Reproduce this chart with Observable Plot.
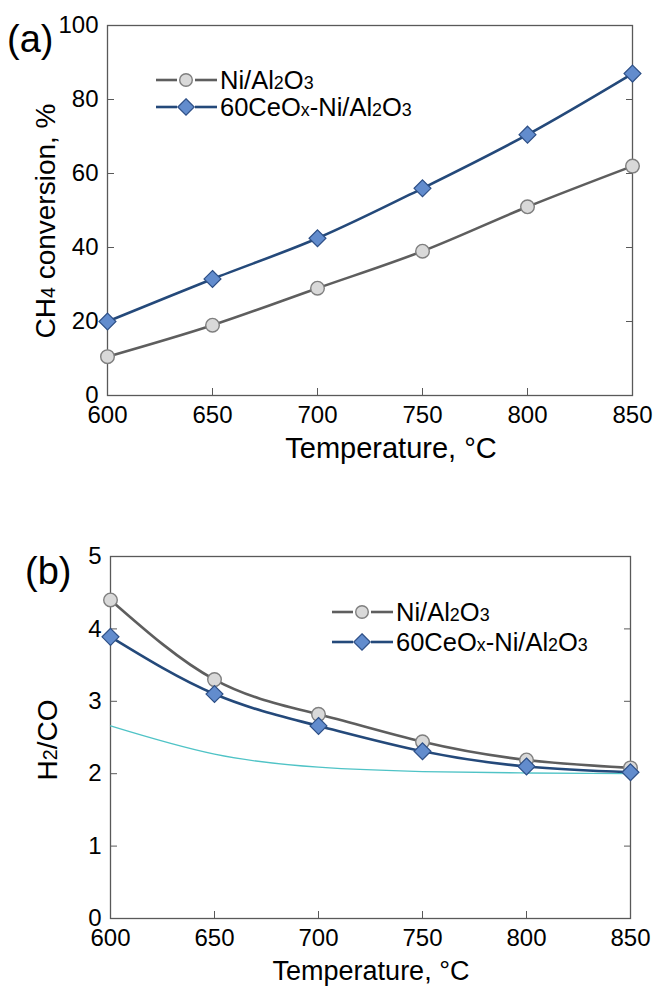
<!DOCTYPE html>
<html><head><meta charset="utf-8">
<script src="https://cdn.jsdelivr.net/npm/d3@7"></script>
<script src="https://cdn.jsdelivr.net/npm/@observablehq/plot@0.6"></script>
<style>
body{margin:0;background:#fff;}
#wrap{position:relative;width:655px;height:988px;overflow:hidden;font-family:"Liberation Sans",Arial,sans-serif;}
#wrap svg{position:absolute;left:0;overflow:visible;}
</style></head><body><div id="wrap"></div>
<script>
// ---- data ----
const temperatures = [600, 650, 700, 750, 800, 850];
const niConversion = [10.5, 19, 29, 39, 51, 62];
const ceConversion = [20, 31.5, 42.5, 56, 70.5, 87];
const niRatio = [4.4, 3.3, 2.82, 2.44, 2.19, 2.08];
const ceRatio = [3.89, 3.1, 2.66, 2.31, 2.1, 2.02];
const equilibriumRatio = [2.66, 2.27, 2.09, 2.03, 2.01, 2.0];
const xTicks = [600, 650, 700, 750, 800, 850];
const yTicksA = [0, 20, 40, 60, 80, 100];
const yTicksB = [0, 1, 2, 3, 4, 5];

// ---- styles ----
const FONT = '"Liberation Sans", Arial, sans-serif';
const AXIS = "#595959";
const NI = {line: "#5e5e5e", fill: "#d9d9d9", stroke: "#7f7f7f"};
const CE = {line: "#24497a", fill: "#628ccd", stroke: "#2d4f86"};
const EQ = "#4fc3c6";

const rows = (ys) => temperatures.map((t, i) => ({t, v: ys[i]}));

function panel({height, mt, mb, ml, mr, yDomain, yTicks, ni, ce, eq, curve}) {
  const marks = [
    Plot.frame({stroke: AXIS, strokeWidth: 1.3}),
    Plot.axisX({ticks: xTicks, tickFormat: d3.format("d"), tickSize: -7, tickPadding: 17, stroke: AXIS, fill: "#000", fontSize: 24, label: null}),
    Plot.axisY({ticks: yTicks, tickFormat: d3.format("d"), tickSize: -7, tickPadding: 16, stroke: AXIS, fill: "#000", fontSize: 24, label: null}),
    Plot.axisY({anchor: "right", ticks: yTicks, tickSize: -7, tickFormat: () => "", stroke: AXIS, label: null})
  ];
  if (eq) marks.push(Plot.line(rows(eq), {x: "t", y: "v", stroke: EQ, strokeWidth: 1.3, curve: "natural"}));
  marks.push(
    Plot.line(rows(ni), {x: "t", y: "v", stroke: NI.line, strokeWidth: 2.6, curve}),
    Plot.line(rows(ce), {x: "t", y: "v", stroke: CE.line, strokeWidth: 2.6, curve}),
    Plot.dot(rows(ni), {x: "t", y: "v", r: 6.8, fill: NI.fill, stroke: NI.stroke, strokeWidth: 1.4}),
    Plot.dot(rows(ce), {x: "t", y: "v", symbol: "diamond2", r: 7.6, fill: CE.fill, stroke: CE.stroke, strokeWidth: 1.2})
  );
  return Plot.plot({
    width: 655, height,
    marginTop: mt, marginBottom: mb, marginLeft: ml, marginRight: mr,
    style: {fontFamily: FONT, fontSize: "24px", color: "#000", background: "transparent", overflow: "visible"},
    x: {domain: [600, 850]},
    y: {domain: yDomain},
    marks
  });
}

function richText(g, parts, size) {
  const t = g.append("text").attr("font-family", FONT).attr("font-size", size).attr("fill", "#000");
  parts.forEach(p => {
    if (typeof p === "string") t.append("tspan").text(p);
    else t.append("tspan").attr("font-size", size * 0.7).text(p.sub);
  });
  return t;
}

function legend(svg, x0, y0, dyRow) {
  const g = d3.select(svg).append("g").attr("text-anchor", "start");
  const items = [
    {parts: ["Ni/Al", {sub: "2"}, "O", {sub: "3"}], s: NI, sym: "circle"},
    {parts: ["60CeO", {sub: "x"}, "-Ni/Al", {sub: "2"}, "O", {sub: "3"}], s: CE, sym: "diamond"}
  ];
  items.forEach((it, i) => {
    const y = y0 + i * dyRow;
    const cx = x0 + 30;
    g.append("line").attr("x1", x0).attr("x2", cx - 9).attr("y1", y).attr("y2", y).attr("stroke", it.s.line).attr("stroke-width", 2.6);
    g.append("line").attr("x1", cx + 9).attr("x2", x0 + 61).attr("y1", y).attr("y2", y).attr("stroke", it.s.line).attr("stroke-width", 2.6);
    if (it.sym === "circle") {
      g.append("circle").attr("cx", cx).attr("cy", y).attr("r", 6.3).attr("fill", it.s.fill).attr("stroke", it.s.stroke).attr("stroke-width", 1.4);
    } else {
      g.append("path").attr("d", d3.symbol(d3.symbolDiamond2, Math.PI * 7.4 * 7.4)()).attr("transform", `translate(${cx},${y})`)
        .attr("fill", it.s.fill).attr("stroke", it.s.stroke).attr("stroke-width", 1.2);
    }
    richText(g, it.parts, 25.5).attr("text-anchor", "start").attr("x", x0 + 64).attr("y", y + 9);
  });
}

const wrap = document.getElementById("wrap");

// ---- panel (a) ----
const svgA = panel({height: 480, mt: 25, mb: 85, ml: 107, mr: 23, yDomain: [0, 100], yTicks: yTicksA,
  ni: niConversion, ce: ceConversion, curve: "catmull-rom"});
svgA.style.top = "0px";
wrap.appendChild(svgA);
{
  const s = d3.select(svgA);
  s.append("text").attr("text-anchor", "start").attr("x", 7).attr("y", 52).attr("font-family", FONT).attr("font-size", 38).text("(a)");
  s.append("text").attr("x", 391).attr("y", 458).attr("text-anchor", "middle").attr("font-family", FONT).attr("font-size", 29).text("Temperature, \u00B0C");
  richText(s, ["CH", {sub: "4"}, " conversion, %"], 28)
    .attr("text-anchor", "middle").attr("transform", "translate(55,221) rotate(-90)");
  legend(svgA, 156, 80, 27);
}

// ---- panel (b) ----
const svgB = panel({height: 508, mt: 76, mb: 70, ml: 110, mr: 25, yDomain: [0, 5], yTicks: yTicksB,
  ni: niRatio, ce: ceRatio, eq: equilibriumRatio, curve: "natural"});
svgB.style.top = "480px";
wrap.appendChild(svgB);
{
  const s = d3.select(svgB);
  s.append("text").attr("text-anchor", "start").attr("x", 25).attr("y", 104).attr("font-family", FONT).attr("font-size", 38).text("(b)");
  s.append("text").attr("x", 371).attr("y", 500).attr("text-anchor", "middle").attr("font-family", FONT).attr("font-size", 27).text("Temperature, \u00B0C");
  richText(s, ["H", {sub: "2"}, "/CO"], 28).attr("text-anchor", "middle").attr("transform", "translate(57,260) rotate(-90)");
  legend(svgB, 332, 132, 30);
}
</script>
</body></html>
